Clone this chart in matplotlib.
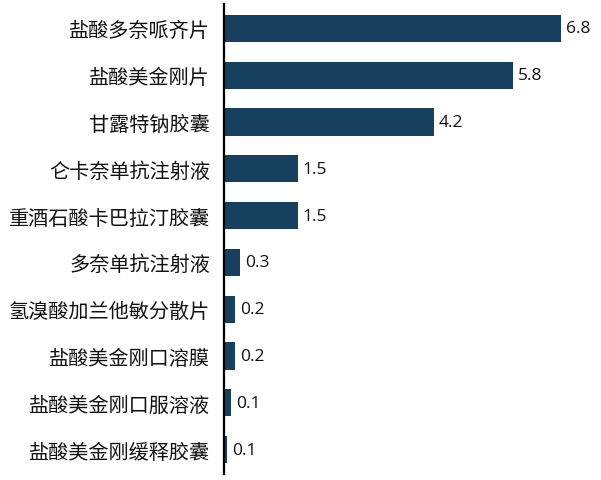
import matplotlib.pyplot as plt

# data (bar lengths, labels as printed)
drugs = [
    "盐酸多奈哌齐片",
    "盐酸美金刚片",
    "甘露特钠胶囊",
    "仑卡奈单抗注射液",
    "重酒石酸卡巴拉汀胶囊",
    "多奈单抗注射液",
    "氢溴酸加兰他敏分散片",
    "盐酸美金刚口溶膜",
    "盐酸美金刚口服溶液",
    "盐酸美金刚缓释胶囊",
]
sales = [6.8, 5.83, 4.23, 1.49, 1.49, 0.32, 0.22, 0.22, 0.14, 0.07]
sales_text = ["6.8", "5.8", "4.2", "1.5", "1.5", "0.3", "0.2", "0.2", "0.1", "0.1"]

BAR = "#17405f"
plt.rcParams["font.family"] = ["Noto Sans CJK SC", "DejaVu Sans"]

fig = plt.figure(figsize=(6.01, 4.81), dpi=100)
ax = fig.add_axes([0.3727, 0.0125, 0.6273, 0.9771])

y = list(range(len(drugs)))
ax.barh(y, sales, height=0.58, color=BAR)
for yi, v, t in zip(y, sales, sales_text):
    ax.text(v + 0.1, yi, t, va="center", ha="left", fontsize=12.5,
            family=["Open Sans", "DejaVu Sans"], color="#111111")

ax.set_ylim(9.52, -0.52)
ax.set_xlim(0, 7.6)
ax.set_yticks(y)
ax.set_yticklabels(drugs, fontsize=14.5, color="#111111")
ax.tick_params(axis="y", length=0, pad=10)
ax.set_xticks([])
for s in ["top", "right", "bottom"]:
    ax.spines[s].set_visible(False)
ax.spines["left"].set_linewidth(1.6)
ax.spines["left"].set_color("black")

fig.savefig("out.png", dpi=100)
